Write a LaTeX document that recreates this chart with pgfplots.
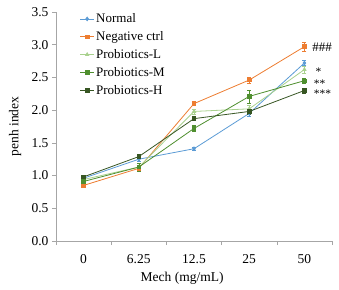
\documentclass[border=0pt]{standalone}
\usepackage{fontspec}
\setmainfont{Liberation Serif}
\usepackage{pgfplots}
\pgfplotsset{compat=1.18}
\definecolor{cN}{HTML}{5B9BD5}
\definecolor{cO}{HTML}{ED7D31}
\definecolor{cL}{HTML}{A9D18E}
\definecolor{cM}{HTML}{4F8F2F}
\definecolor{cH}{HTML}{375623}
\begin{document}
\begin{tikzpicture}
\begin{axis}[
  width=276pt, height=229pt, scale only axis,
  xmin=-0.5, xmax=4.5, ymin=0, ymax=3.5,
  axis lines*=left,
  axis line style={gray!70, line width=0.6pt},
  xtick={0,...,4}, xticklabels={0,6.25,12.5,25,50},
  major x tick style={draw=none},
  minor xtick={-0.5,0.5,1.5,2.5,3.5,4.5},
  ytick={0,0.5,...,3.5},
  yticklabel style={/pgf/number format/.cd,fixed,fixed zerofill,precision=1},
  /pgf/number format/assume math mode=true,
  tick align=outside, tick style={gray!70, line width=0.5pt},
  major tick length=4pt, minor tick length=4pt,
  tick label style={font=\fontsize{13.5}{15}\selectfont},
  xticklabel style={yshift=-6pt},
  every axis x label/.style={at={(axis description cs:0.457,-0.163)}, anchor=center, font=\fontsize{13.5}{15}\selectfont},
  every axis y label/.style={at={(axis description cs:-0.148,0.5)}, anchor=center, rotate=90, font=\fontsize{13.5}{15}\selectfont},
  xlabel={Mech (mg/mL)}, ylabel={penh index},
  legend style={at={(0.085,1.0)}, anchor=north west, draw=none, fill=none,
    font=\fontsize{13}{14}\selectfont, row sep=4.3pt, inner sep=0pt,
    nodes={inner sep=1.5pt}},
  legend cell align=left,
  legend image code/.code={\draw[mark repeat=2,mark phase=2] plot coordinates {(0cm,0cm) (0.25cm,0cm) (0.5cm,0cm)};},
  every axis plot/.append style={line width=0.8pt, mark size=1.8pt},
  error bars/error bar style={line width=0.5pt},
  error bars/error mark options={rotate=90, mark size=2pt, line width=0.5pt},
]
\addplot[cN, mark=diamond*, error bars/.cd, y dir=both, y explicit] table[x=x,y=y,y error=e] {
x y e
0 0.96 0.02
1 1.25 0.03
2 1.41 0.02
3 1.95 0.05
4 2.72 0.04
};
\addlegendentry{Normal}
\addplot[cO, mark=square*, error bars/.cd, y dir=both, y explicit] table[x=x,y=y,y error=e] {
x y e
0 0.85 0.02
1 1.11 0.02
2 2.10 0.03
3 2.46 0.05
4 2.97 0.07
};
\addlegendentry{Negative ctrl}
\addplot[cL, mark=triangle*, error bars/.cd, y dir=both, y explicit] table[x=x,y=y,y error=e] {
x y e
0 0.94 0.02
1 1.13 0.03
2 1.98 0.04
3 2.02 0.05
4 2.62 0.05
};
\addlegendentry{Probiotics-L}
\addplot[cM, mark=square*, error bars/.cd, y dir=both, y explicit] table[x=x,y=y,y error=e] {
x y e
0 0.91 0.02
1 1.13 0.06
2 1.72 0.05
3 2.21 0.10
4 2.45 0.04
};
\addlegendentry{Probiotics-M}
\addplot[cH, mark=square*, error bars/.cd, y dir=both, y explicit] table[x=x,y=y,y error=e] {
x y e
0 0.98 0.02
1 1.29 0.02
2 1.87 0.03
3 1.98 0.04
4 2.30 0.04
};
\addlegendentry{Probiotics-H}
\node[anchor=west, font=\fontsize{13}{14}\selectfont, inner sep=0pt] at (axis cs:4.14,2.96) {\#\#\#};
\node[anchor=west, font=\fontsize{11.5}{11.5}\selectfont, inner sep=0pt] at (axis cs:4.2,2.58) {*};
\node[anchor=west, font=\fontsize{11.5}{11.5}\selectfont, inner sep=0pt] at (axis cs:4.17,2.41) {**};
\node[anchor=west, font=\fontsize{11.5}{11.5}\selectfont, inner sep=0pt] at (axis cs:4.17,2.25) {***};
\end{axis}
\pgfresetboundingbox
\path (current axis.south west) ++(-56pt,-48pt) rectangle ++(339pt,289pt);
\end{tikzpicture}
\end{document}
